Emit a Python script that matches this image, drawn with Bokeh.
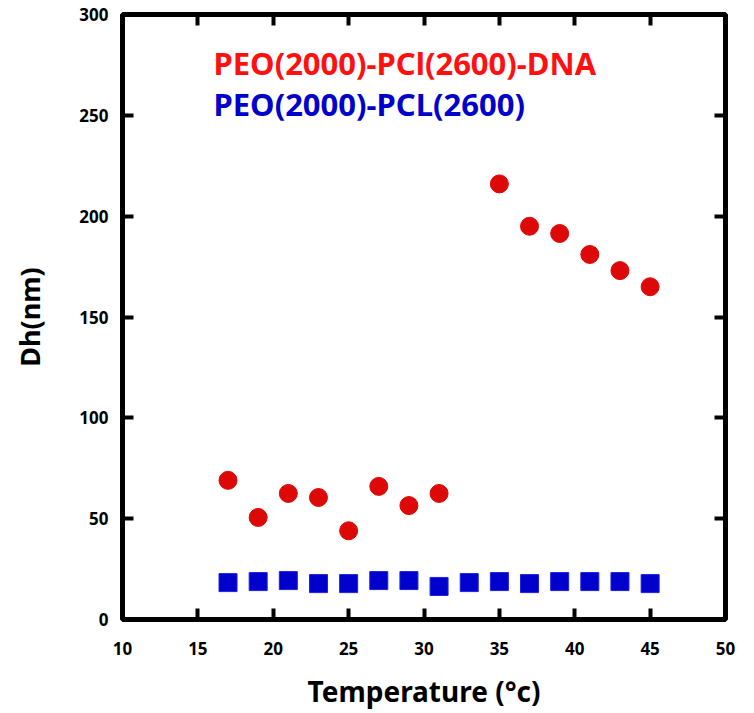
from bokeh.plotting import figure
from bokeh.models import Range1d, LinearAxis, FixedTicker, Label, ColumnDataSource, CustomJSTickFormatter
from bokeh.embed import file_html
from bokeh.resources import INLINE

# Data
temp_dna = [17, 19, 21, 23, 25, 27, 29, 31, 35, 37, 39, 41, 43, 45]
dh_dna = [69, 50.6, 62.5, 60.5, 44, 66, 56.5, 62.5, 216, 195, 191.4, 181, 173, 165]
temp_pcl = [17, 19, 21, 23, 25, 27, 29, 31, 33, 35, 37, 39, 41, 43, 45]
dh_pcl = [18.3, 18.8, 19.3, 17.8, 17.8, 19.3, 19.3, 16.4, 18.3, 18.8, 17.8, 18.8, 18.8, 18.8, 17.8]
x_ticks = [10, 15, 20, 25, 30, 35, 40, 45, 50]
y_ticks = [0, 50, 100, 150, 200, 250, 300]
label_dna = "PEO(2000)-PCl(2600)-DNA"
label_pcl = "PEO(2000)-PCL(2600)"

FONT = "Noto Sans"

p = figure(width=746, height=712, output_backend="svg", toolbar_location=None,
           x_range=Range1d(10, 50), y_range=Range1d(0, 300),
           min_border_left=122, min_border_top=14, min_border_right=21, min_border_bottom=93,
           x_axis_location=None, y_axis_location=None)
p.grid.visible = False
p.outline_line_color = "black"
p.outline_line_width = 5
p.background_fill_color = "white"
p.border_fill_color = "white"

def style_axis(ax, ticks, show_labels):
    ax.ticker = FixedTicker(ticks=ticks)
    ax.axis_line_color = None
    ax.major_tick_in = 11
    ax.major_tick_out = 0
    ax.major_tick_line_width = 4
    ax.minor_tick_line_color = None
    if show_labels:
        ax.major_label_text_font = FONT
        ax.major_label_text_font_style = "bold"
        ax.major_label_text_font_size = "17px"
        ax.major_label_text_color = "black"
    else:
        ax.formatter = CustomJSTickFormatter(code="return '';")
        ax.major_label_standoff = 0

xb = LinearAxis(axis_label="Temperature (°c)")
xt = LinearAxis()
yl = LinearAxis(axis_label="Dh(nm)")
yr = LinearAxis()
style_axis(xb, x_ticks, True)
style_axis(xt, x_ticks, False)
style_axis(yl, y_ticks, True)
style_axis(yr, y_ticks, False)
xb.major_label_standoff = 22
yl.major_label_standoff = 14
for ax in (xb, yl):
    ax.axis_label_text_font = FONT
    ax.axis_label_text_font_style = "bold"
    ax.axis_label_text_color = "black"
xb.axis_label_text_font_size = "28px"
yl.axis_label_text_font_size = "27px"
xb.axis_label_standoff = 14
yl.axis_label_standoff = 28

p.add_layout(xb, "below")
p.add_layout(xt, "above")
p.add_layout(yl, "left")
p.add_layout(yr, "right")

src_dna = ColumnDataSource(dict(x=temp_dna, y=dh_dna))
src_pcl = ColumnDataSource(dict(x=temp_pcl, y=dh_pcl))
p.scatter("x", "y", source=src_pcl, marker="square", size=18,
          fill_color="#0000CC", line_color="#2020DD", line_width=1)
p.scatter("x", "y", source=src_dna, marker="circle", size=18,
          fill_color="#DD0808", line_color="#DD0808", line_width=1)

p.add_layout(Label(x=91, y=557, x_units="screen", y_units="screen", text=label_dna,
                   text_color="#FF1010", text_font=FONT, text_font_size="31px",
                   text_font_style="bold", text_baseline="middle", text_align="left"))
p.add_layout(Label(x=91, y=516, x_units="screen", y_units="screen", text=label_pcl,
                   text_color="#0000CC", text_font=FONT, text_font_size="31px",
                   text_font_style="bold", text_baseline="middle", text_align="left"))

open("out.html", "w").write(file_html(p, INLINE))
